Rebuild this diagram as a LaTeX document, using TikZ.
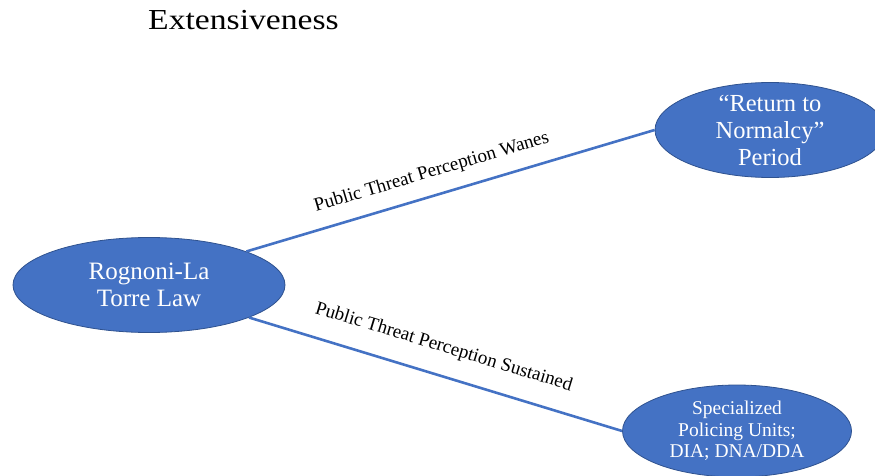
\documentclass[tikz,border=0pt]{standalone}
\usepackage{fontspec}
\setmainfont{Liberation Serif}
\newfontfamily\widefont{Liberation Serif}[FakeStretch=1.16]
\usepackage{xcolor}
\usepackage{tikz}
\usetikzlibrary{calc,positioning,shapes.geometric}
\definecolor{ovalblue}{HTML}{4472C4}
\definecolor{ovalrim}{HTML}{2F528F}

\begin{document}
\begin{tikzpicture}[
  x=1pt, y=-1pt,
  bubble/.style={ellipse, draw=ovalrim, line width=0.8pt, fill=ovalblue, inner sep=0pt},
  inside/.style 2 args={text=white, align=center, font=\fontsize{#1}{#2}\selectfont},
  link/.style={draw=ovalblue, line width=2.6pt},
  tag/.style={font=\fontsize{19}{21}\selectfont, sloped, inner sep=1pt}
]
\useasboundingbox (0,0) rectangle (875,476);
\node[anchor=base west, inner sep=0pt, font=\widefont\fontsize{29}{33}\selectfont] (title) at (148,29.3) {Extensiveness};

\node[bubble, minimum width=272, minimum height=95,
  label={[inside={25}{27}]center:{Rognoni-La\\Torre Law}}] (law) at (149,285) {};
\node[bubble, minimum width=230, minimum height=95,
  label={[inside={24.5}{27}]center:{``Return to\\Normalcy''\\Period}}] (normal) at (770,130) {};
\node[bubble, minimum width=229, minimum height=92,
  label={[inside={19.5}{21.5}]center:{Specialized\\Policing Units;\\DIA; DNA/DDA}}] (units) at (737,431) {};

\draw[link] (law.19) -- node[tag, pos=0.47, above=12pt] {Public Threat Perception Wanes} (normal.west);
\draw[link] (law.-18) -- node[tag, pos=0.5, above=17pt] {Public Threat Perception Sustained} (units.west);
\end{tikzpicture}
\end{document}
